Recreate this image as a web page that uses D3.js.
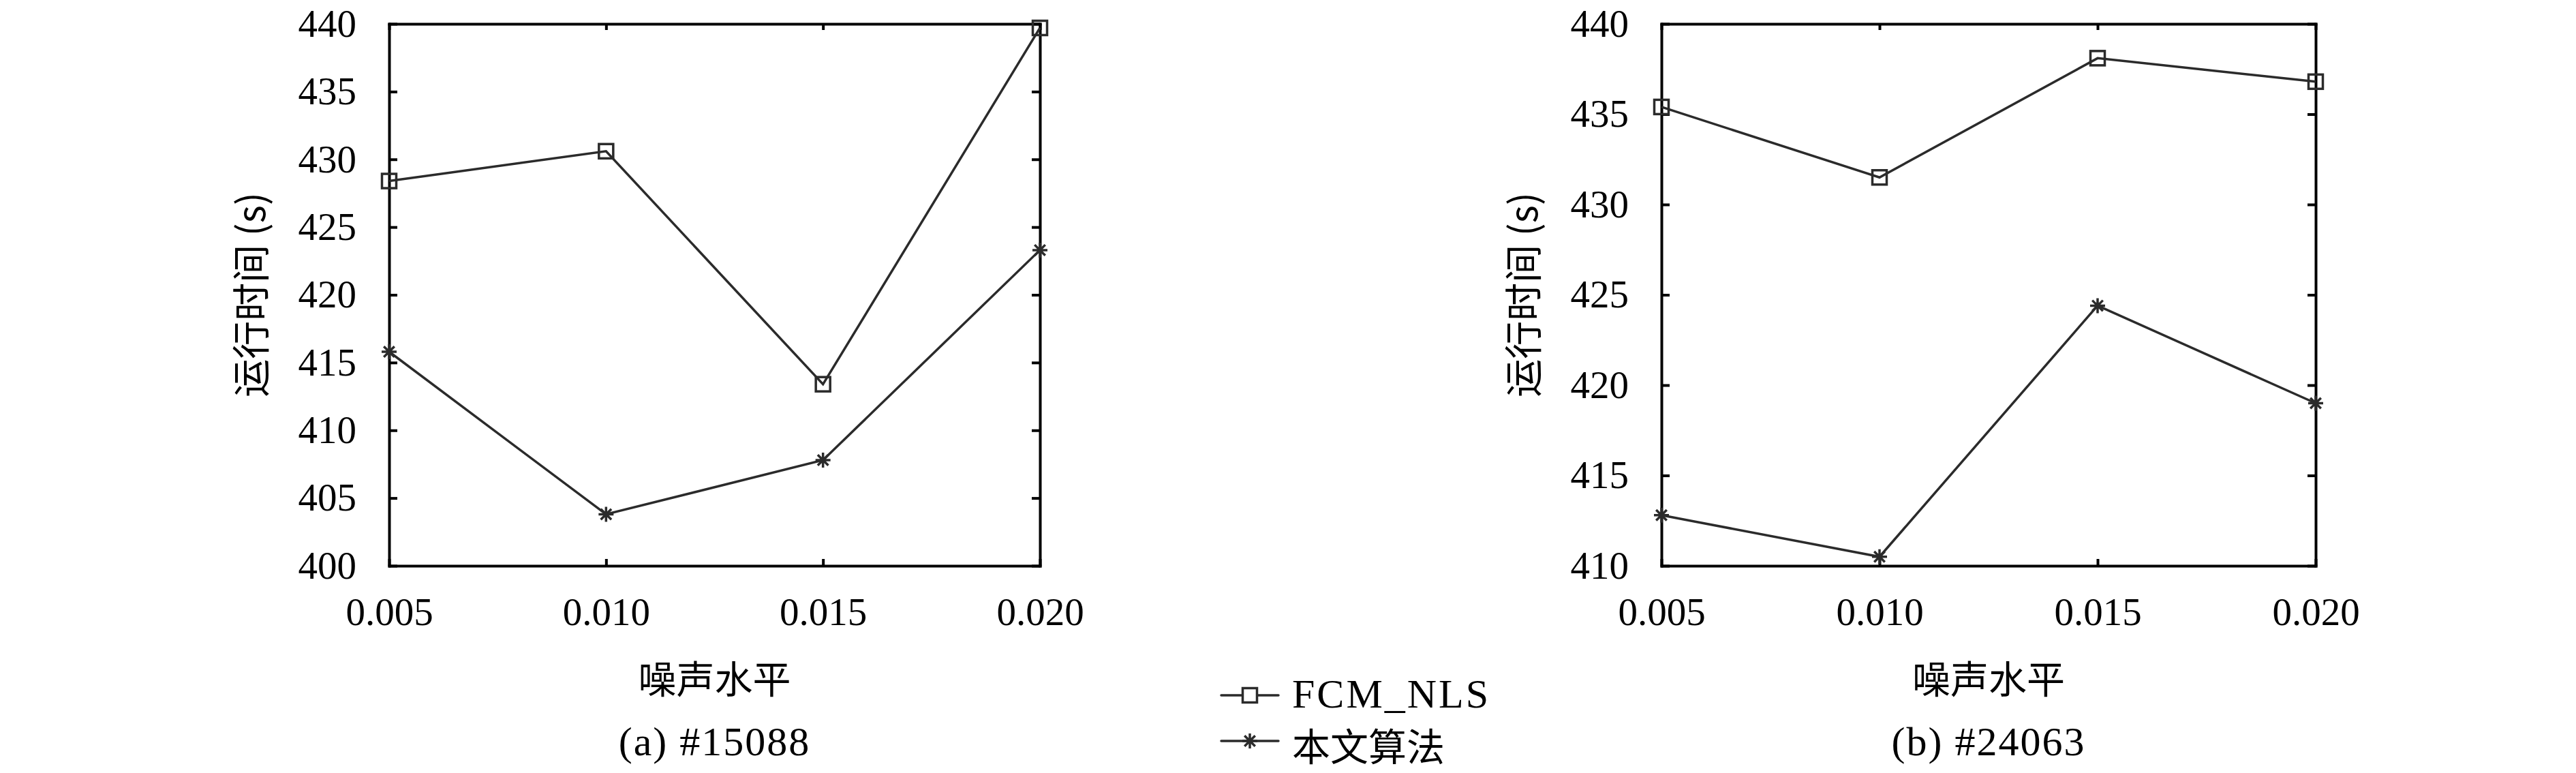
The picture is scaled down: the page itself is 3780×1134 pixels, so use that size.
<!DOCTYPE html>
<html>
<head>
<meta charset="utf-8">
<script src="https://cdn.jsdelivr.net/npm/d3@7/dist/d3.min.js"></script>
<style>
  html, body { margin: 0; padding: 0; background: #fff; }
  svg { display: block; }
</style>
</head>
<body>
<svg id="chart" width="3780" height="1134"></svg>
<script>
// ---------------- data ----------------
const noiseLevels = [0.005, 0.010, 0.015, 0.020];
const xTickLabels = ["0.005", "0.010", "0.015", "0.020"];

const seriesNames = ["FCM_NLS", "本文算法"];

// panel (a) #15088
const fcmA  = [428.4, 430.6, 413.4, 439.7];
const oursA = [415.8, 403.8, 407.8, 423.3];
const yTicksA = [400, 405, 410, 415, 420, 425, 430, 435, 440];

// panel (b) #24063
const fcmB  = [435.4, 431.5, 438.1, 436.8];
const oursB = [412.8, 410.5, 424.4, 419.0];
const yTicksB = [410, 415, 420, 425, 430, 435, 440];

const captions = ["(a) #15088", "(b) #24063"];
const xTitle = "噪声水平";
const yTitle = "运行时间 (s)";

// ---------------- drawing ----------------
const svg = d3.select("#chart");
svg.append("rect").attr("width", 3780).attr("height", 1134).attr("fill", "#fff");

const latin = "'Liberation Serif', 'Noto Sans CJK SC', serif";
const cjk = "'Noto Sans CJK SC', 'Liberation Serif', serif";
const lineColor = "#2b2b2b";

const panels = [
  { x0: 571, x1: 1526, yDomain: [400, 440], yTicks: yTicksA, fcm: fcmA, ours: oursA, caption: captions[0] },
  { x0: 2438, x1: 3398, yDomain: [410, 440], yTicks: yTicksB, fcm: fcmB, ours: oursB, caption: captions[1] }
];
const yTop = 35, yBottom = 830;

function starPath(r) {
  const d = r * Math.SQRT1_2;
  return `M0,${-r}L0,${r}M${-r},0L${r},0M${-d},${-d}L${d},${d}M${-d},${d}L${d},${-d}`;
}
const squareSide = 21;

panels.forEach(p => {
  const x = d3.scaleLinear().domain([noiseLevels[0], noiseLevels[noiseLevels.length - 1]]).range([p.x0, p.x1]);
  const y = d3.scaleLinear().domain(p.yDomain).range([yBottom, yTop]);
  const g = svg.append("g");

  // axes (inward ticks, full frame)
  const left = g.append("g").attr("transform", `translate(${p.x0},0)`)
    .call(d3.axisLeft(y).tickValues(p.yTicks).tickSizeInner(-12).tickSizeOuter(0).tickPadding(48).tickFormat(d3.format("d")));
  const right = g.append("g").attr("transform", `translate(${p.x1},0)`)
    .call(d3.axisRight(y).tickValues(p.yTicks).tickSizeInner(-12).tickSizeOuter(0).tickFormat(""));
  const bottom = g.append("g").attr("transform", `translate(0,${yBottom})`)
    .call(d3.axisBottom(x).tickValues(noiseLevels).tickSizeInner(-10).tickSizeOuter(0).tickPadding(47)
      .tickFormat((d, i) => xTickLabels[i]));
  const top = g.append("g").attr("transform", `translate(0,${yTop})`)
    .call(d3.axisTop(x).tickValues(noiseLevels).tickSizeInner(-9).tickSizeOuter(0).tickFormat(""));

  [left, right, bottom, top].forEach(a => {
    a.select(".domain").attr("stroke", "#000").attr("stroke-width", 4).attr("stroke-linecap", "square");
    a.selectAll(".tick line").attr("stroke", "#000").attr("stroke-width", 4);
    a.selectAll(".tick text").attr("font-family", latin).attr("font-size", 57).attr("fill", "#000");
  });

  // series
  const line = d3.line().x((d, i) => x(noiseLevels[i])).y(d => y(d));
  [p.fcm, p.ours].forEach(vals => {
    g.append("path").datum(vals).attr("d", line)
      .attr("fill", "none").attr("stroke", lineColor).attr("stroke-width", 3.5).attr("stroke-linejoin", "miter");
  });
  g.selectAll(".sq").data(p.fcm).enter().append("rect")
    .attr("x", (d, i) => x(noiseLevels[i]) - squareSide / 2)
    .attr("y", d => y(d) - squareSide / 2)
    .attr("width", squareSide).attr("height", squareSide)
    .attr("fill", "none").attr("stroke", lineColor).attr("stroke-width", 3.5);
  g.selectAll(".st").data(p.ours).enter().append("path")
    .attr("transform", (d, i) => `translate(${x(noiseLevels[i])},${y(d)})`)
    .attr("d", starPath(11)).attr("stroke", lineColor).attr("stroke-width", 3.5).attr("fill", "none");

  const cx = (p.x0 + p.x1) / 2;
  // x title
  g.append("text").attr("x", cx).attr("y", 992).attr("text-anchor", "middle")
    .attr("dominant-baseline", "central").attr("font-family", cjk).attr("font-size", 56).text(xTitle);
  // y title
  g.append("text").attr("transform", `translate(${p.x0 - 207},${(yTop + yBottom) / 2}) rotate(-90)`)
    .attr("text-anchor", "middle").attr("dominant-baseline", "central")
    .attr("font-family", cjk).attr("font-size", 56).text(yTitle);
  // caption
  g.append("text").attr("x", cx).attr("y", 1108).attr("text-anchor", "middle")
    .attr("font-family", latin).attr("font-size", 60).attr("letter-spacing", 2).text(p.caption);
});

// legend
const legend = svg.append("g");
const legendRows = [
  { name: seriesNames[0], y: 1020, marker: "square" },
  { name: seriesNames[1], y: 1087, marker: "star" }
];
legendRows.forEach(r => {
  legend.append("line").attr("x1", 1792).attr("x2", 1876).attr("y1", r.y).attr("y2", r.y)
    .attr("stroke", lineColor).attr("stroke-width", 3.5).attr("stroke-linecap", "round");
  if (r.marker === "square") {
    legend.append("rect").attr("x", 1834 - squareSide / 2).attr("y", r.y - squareSide / 2)
      .attr("width", squareSide).attr("height", squareSide)
      .attr("fill", "#fff").attr("stroke", lineColor).attr("stroke-width", 3.5);
  } else {
    legend.append("path").attr("transform", `translate(1834,${r.y})`).attr("d", starPath(11))
      .attr("stroke", lineColor).attr("stroke-width", 3.5);
  }
});
legend.append("text").attr("x", 1896).attr("y", 1038).attr("font-family", latin).attr("font-size", 60)
  .attr("letter-spacing", 3).text(seriesNames[0]);
legend.append("text").attr("x", 1896).attr("y", 1091).attr("dominant-baseline", "central")
  .attr("font-family", cjk).attr("font-size", 56).text(seriesNames[1]);
</script>
</body>
</html>
